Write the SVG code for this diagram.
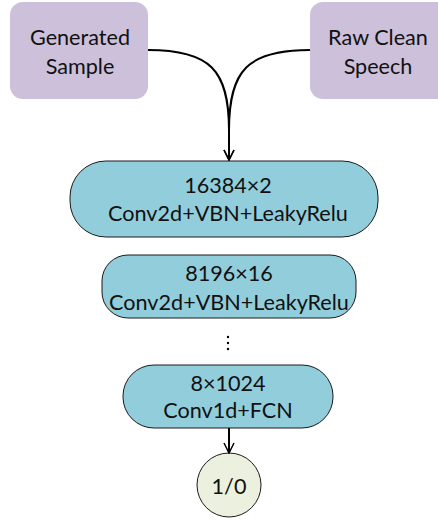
<svg xmlns="http://www.w3.org/2000/svg" width="438" height="520" viewBox="0 0 438 520">
<style>
text{font-family:Lato,"Open Sans","Liberation Sans",sans-serif;font-size:21.6px;fill:#111;text-anchor:middle;dominant-baseline:central}
.in{fill:#CCC0DA}
.layer{fill:#92CDDC;stroke:#1a1a1a;stroke-width:1}
.out{fill:#EBF1DE;stroke:#1a1a1a;stroke-width:1}
.con{fill:none;stroke:#000;stroke-width:2}
</style>
<defs>
<marker id="arr" viewBox="0 0 12 12" refX="11" refY="6" markerWidth="12" markerHeight="12" markerUnits="userSpaceOnUse" orient="auto">
<path d="M1,1 L11,6 L1,11" fill="none" stroke="#000" stroke-width="1.5"/>
</marker>
</defs>
<g id="generated">
<rect class="in" x="10" y="2" width="138" height="97" rx="13"/>
<text x="80" y="37">Generated</text>
<text x="80" y="66">Sample</text>
</g>
<g id="raw">
<rect class="in" x="310" y="2" width="140" height="97" rx="13"/>
<text x="378" y="37">Raw Clean</text>
<text x="378" y="66">Speech</text>
</g>
<g id="layer1">
<rect class="layer" x="70" y="161" width="308" height="76" rx="36"/>
<text x="228" y="185">16384×2</text>
<text x="228" y="213">Conv2d+VBN+LeakyRelu</text>
</g>
<g id="layer2">
<rect class="layer" x="102" y="255" width="254" height="63" rx="26"/>
<text x="229" y="273">8196×16</text>
<text x="229" y="302">Conv2d+VBN+LeakyRelu</text>
</g>
<g id="dots">
<circle cx="228" cy="337" r="1.2" fill="#000"/>
<circle cx="228" cy="343" r="1.2" fill="#000"/>
<circle cx="228" cy="349" r="1.2" fill="#000"/>
</g>
<g id="layer3">
<rect class="layer" x="123" y="365" width="210" height="63" rx="31"/>
<text x="228" y="383">8×1024</text>
<text x="228" y="410">Conv1d+FCN</text>
</g>
<g id="output">
<circle class="out" cx="229" cy="485" r="32"/>
<text x="229" y="486">1/0</text>
</g>
<g id="connectors">
<path class="con" d="M148,50 C210,50 229,70 229,130 L229,160" marker-end="url(#arr)"/>
<path class="con" d="M310,50 C248,50 229,70 229,130 L229,160" marker-end="url(#arr)"/>
<path class="con" d="M229,428 L229,453" marker-end="url(#arr)"/>
</g>
</svg>
